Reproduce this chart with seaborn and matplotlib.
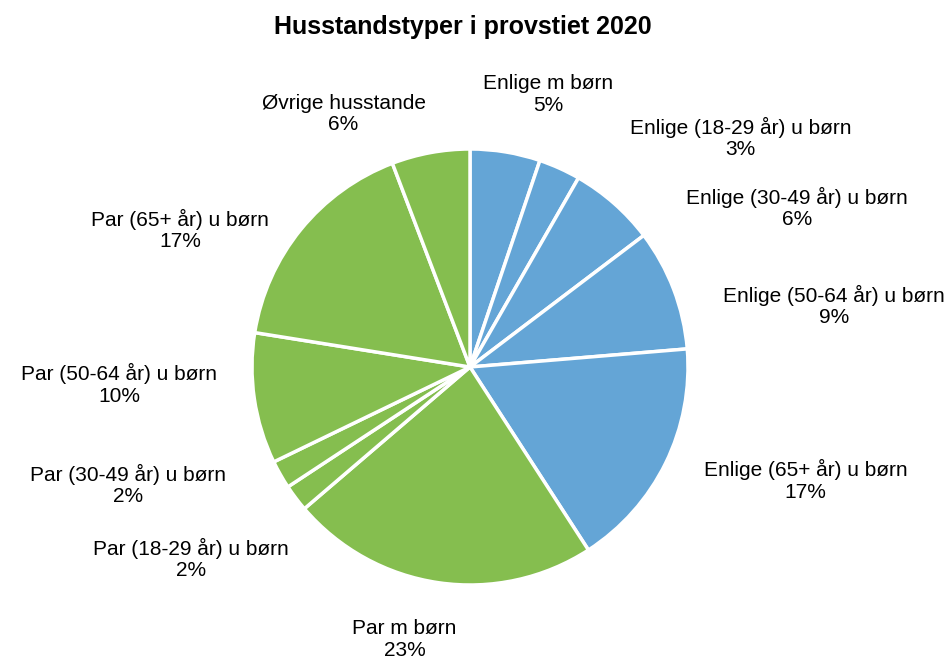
import numpy as np
import seaborn as sns
from matplotlib import pyplot as plt

# data (shares in percent, clockwise from 12 o'clock)
categories = [
    'Enlige m børn',
    'Enlige (18-29 år) u børn',
    'Enlige (30-49 år) u børn',
    'Enlige (50-64 år) u børn',
    'Enlige (65+ år) u børn',
    'Par m børn',
    'Par (18-29 år) u børn',
    'Par (30-49 år) u børn',
    'Par (50-64 år) u børn',
    'Par (65+ år) u børn',
    'Øvrige husstande',
]
shares = [5.2, 3.1, 6.4, 9.0, 17.2, 22.9, 2.0, 2.1, 9.7, 16.7, 5.8]
groups = ['Enlige'] * 5 + ['Par'] * 5 + ['Øvrige']
title = 'Husstandstyper i provstiet 2020'

# label centres, in units of the pie radius relative to its centre
label_pos = [(0.36, 1.25), (1.24, 1.05), (1.50, 0.73), (1.67, 0.28), (1.54, -0.52),
             (-0.30, -1.25), (-1.28, -0.88), (-1.57, -0.54), (-1.61, -0.08),
             (-1.33, 0.63), (-0.58, 1.16)]

sns.set_theme(style='white')
plt.rcParams['font.family'] = ['Liberation Sans', 'DejaVu Sans']

palette = {'Enlige': '#64A5D6', 'Par': '#85BE4F', 'Øvrige': '#85BE4F'}
colors = [palette[g] for g in groups]

W, H = 949, 659
fig = plt.figure(figsize=(W / 100, H / 100), dpi=100)
cx, cy, R = 470, 367, 218
ax = fig.add_axes([(cx - R) / W, (H - cy - R) / H, 2 * R / W, 2 * R / H])

ax.pie(shares, colors=colors, startangle=90, counterclock=False,
       wedgeprops=dict(edgecolor='white', linewidth=2.5))
ax.set_xlim(-1, 1)
ax.set_ylim(-1, 1)
ax.set_aspect('equal')
ax.axis('off')

total = float(np.sum(shares))
for name, val, (x, y) in zip(categories, shares, label_pos):
    ax.text(x, y, f'{name}\n{round(val / total * 100)}%', ha='center', va='center',
            multialignment='center', fontsize=15, color='black', linespacing=1.15)

fig.text(463 / W, 1 - 27 / H, title, ha='center', va='center', fontsize=18,
         fontweight='bold', color='black')

fig.savefig('out.png', dpi=100)
